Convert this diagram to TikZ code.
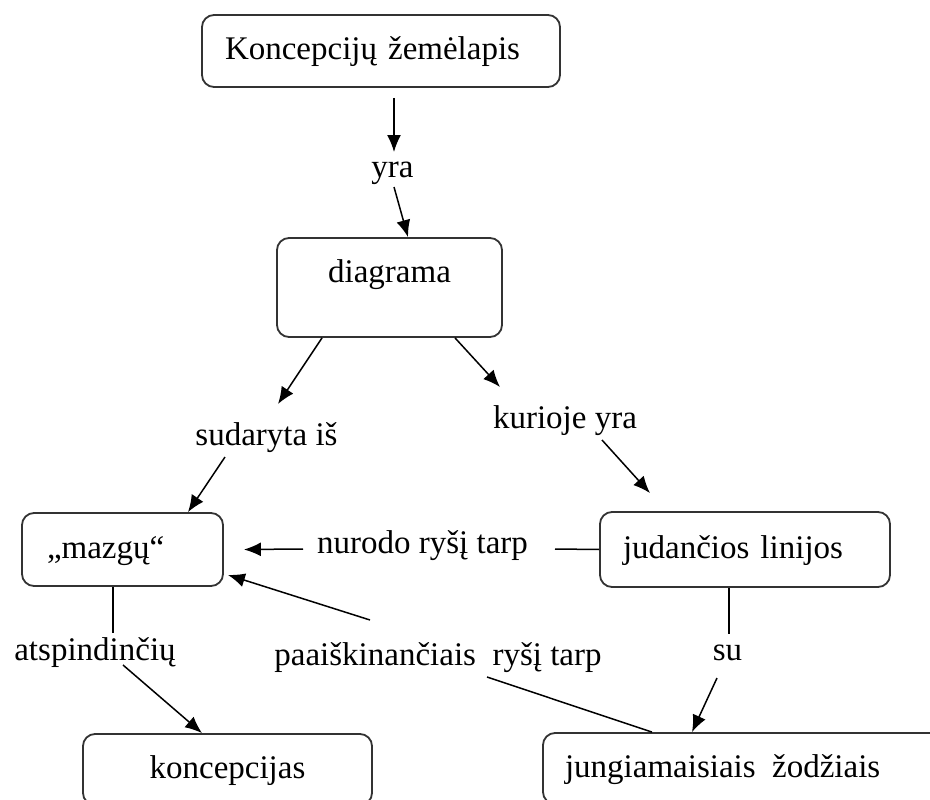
\documentclass[tikz,border=0pt]{standalone}
\usepackage{fontspec}
\setmainfont{Liberation Serif}
\usetikzlibrary{arrows.meta}

\begin{document}
\begin{tikzpicture}[
  x=1pt, y=-1pt,
  every node/.style={font=\fontsize{33}{40}\selectfont},
  box/.style={draw=black!80,line width=1.8pt,rounded corners=12pt,align=left,inner ysep=0pt,text height=23pt,text depth=6pt},
  lbl/.style={inner sep=0pt,anchor=base},
  arrow/.style={-{Latex[length=17pt,width=14pt]},line width=1.5pt},
  link/.style={line width=1.5pt}
]
\clip (0,0) rectangle (930,800);
\fill[white] (0,0) rectangle (930,800);

% concept boxes
\node[box,inner xsep=23pt,text width=312pt,minimum height=72pt] (map) at (381,51) {Koncepcijų žemėlapis};
\node[box,align=center,inner xsep=10pt,text width=205pt,minimum height=99pt,text depth=34pt] (diag) at (389.5,287.5) {diagrama};
\node[box,inner xsep=25pt,text width=151pt,minimum height=73pt] (maz) at (122.5,549.5) {„mazgų“};
\node[box,inner xsep=23pt,text width=244pt,minimum height=75pt] (jud) at (745,549.5) {judančios linijos};
\node[box,align=center,inner xsep=10pt,text width=269pt,minimum height=71pt] (konc) at (227.5,769.5) {koncepcijas};
\node[box,inner xsep=22pt,text width=376pt,minimum height=71pt] (jung) at (753,768.5) {jungiamaisiais\hspace{0.5em}žodžiais};

% linking words
\node[lbl] (yra) at (392.5,177) {yra};
\node[lbl] (sud) at (266.5,445) {sudaryta iš};
\node[lbl] (kur) at (565,428) {kurioje yra};
\node[lbl] (nur) at (422.5,553) {nurodo ryšį tarp};
\node[lbl] (atsp) at (95,660) {atspindinčių};
\node[lbl] (paai) at (438,665) {paaiškinančiais\hspace{0.5em}ryšį tarp};
\node[lbl] (su) at (727.5,660) {su};

\draw[arrow] ([shift={(13,10)}]map.south) -- ([shift={(1.5,-25)}]yra.base);
\draw[arrow] ([shift={(1.5,10)}]yra.base) -- ([shift={(18.5,0)}]diag.north);
\draw[arrow] ([shift={(-67.5,0)}]diag.south) -- ([shift={(11.5,-41)}]sud.base);
\draw[arrow] ([shift={(65.5,0)}]diag.south) -- ([shift={(-65,-41)}]kur.base);
\draw[arrow] ([shift={(-41.5,12)}]sud.base) -- ([shift={(65.5,0)}]maz.north);
\draw[arrow] ([shift={(37,12)}]kur.base) -- ([shift={(-95,-18)}]jud.north);
\draw[arrow] ([shift={(-119.5,-4)}]nur.base) -- ([shift={(20,0)}]maz.east);
\draw[link] (jud.west) -- ([shift={(132.5,-4)}]nur.base);
\draw[link] ([shift={(-9.5,0)}]maz.south) -- ([shift={(18,-27)}]atsp.base);
\draw[arrow] ([shift={(28,5)}]atsp.base) -- ([shift={(-25.5,0)}]konc.north);
\draw[arrow] ([shift={(-68,-45)}]paai.base) -- ([shift={(4,-12)}]maz.south east);
\draw[link] ([shift={(-101,0)}]jung.north) -- ([shift={(49,12)}]paai.base);
\draw[link] ([shift={(-16,0)}]jud.south) -- ([shift={(1.5,-26)}]su.base);
\draw[arrow] ([shift={(-10.5,18)}]su.base) -- ([shift={(-61,0)}]jung.north);
\end{tikzpicture}
\end{document}
